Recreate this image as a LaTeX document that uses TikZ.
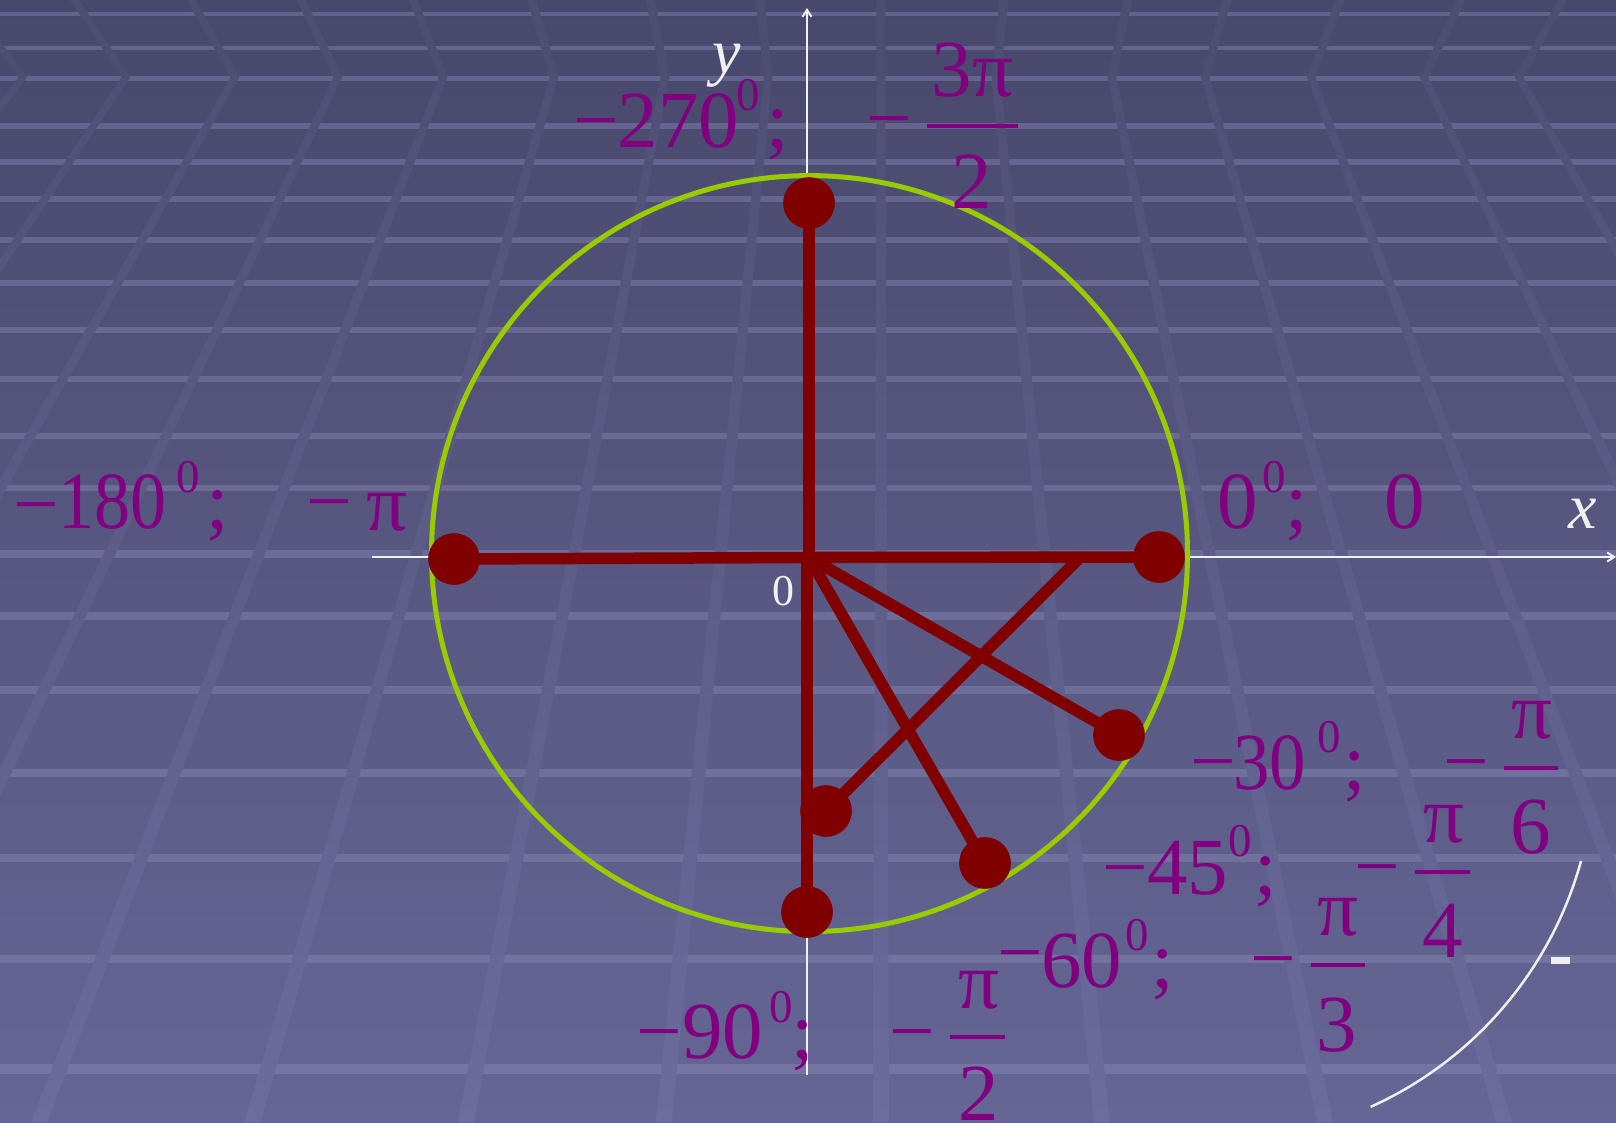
\documentclass[tikz,border=0pt]{standalone}
\usepackage{graphicx}
\usepackage{fontspec}
\setmainfont{Liberation Serif}
\usetikzlibrary{arrows.meta}
\definecolor{bgtop}{RGB}{72,72,108}
\definecolor{bgbot}{RGB}{102,102,150}
\definecolor{bandtop}{RGB}{98,98,140}
\definecolor{bandbot}{RGB}{118,118,164}
\definecolor{lntop}{RGB}{80,80,118}
\definecolor{lnbot}{RGB}{108,108,157}
\definecolor{lnup}{RGB}{78,78,115}
\definecolor{labpurple}{RGB}{128,0,128}
\definecolor{ptred}{RGB}{128,0,0}
\definecolor{circgreen}{RGB}{153,204,0}
\definecolor{axwhite}{RGB}{240,240,240}
\begin{document}
\begin{tikzpicture}[x=1pt,y=-1pt,
 lab/.style={text=labpurple,inner sep=0pt,outer sep=0pt,font=\fontsize{81}{81}\selectfont},
 suplab/.style={text=labpurple,inner sep=0pt,outer sep=0pt,font=\fontsize{47}{47}\selectfont},
 axlab/.style={text=axwhite,inner sep=0pt,outer sep=0pt,font=\fontsize{64}{64}\selectfont\itshape},
 zerolab/.style={text=axwhite,inner sep=0pt,outer sep=0pt,font=\fontsize{44}{44}\selectfont},
 fbar/.style={draw=labpurple,line width=4pt},
 axisline/.style={draw=axwhite,line width=2pt,-{Straight Barb[length=7pt,width=9pt]}},
 ray/.style={draw=ptred,line width=11.5pt,line cap=round},
 ptdot/.style={circle,fill=ptred,minimum size=51.4pt,inner sep=0pt,outer sep=0pt},
]
\useasboundingbox (0,0) rectangle (1616,1122);
% background: gradient, light bands, perspective lines (vanishing point at x=881)
\shade[top color=bgtop,bottom color=bgbot] (0,0) rectangle (1616,1122);
\foreach \yy in {14,48,78,126,162,199,240,283,330,379,436,488,554,616,690,773,858,959,1069}{
  \pgfmathtruncatemacro\pp{\yy/11.22}
  \pgfmathsetmacro\ww{5*(\yy+1056)/1133}
  \draw[line width=\ww pt,draw=bandbot!\pp!bandtop] (0,\yy) -- (1616,\yy);
}
\foreach \k in {23,126,235,338,443,554,665,768,881,996,1112,1205,1311,1424,1519}{
  \pgfmathsetmacro\xb{881+1.922*(\k-881)}
  \pgfmathsetmacro\xt{881+1.068*(\k-881)}
  \shade[top color=lntop,bottom color=lnbot] (\k-4.3,77) -- (\k+4.3,77) -- (\xb+8,1122) -- (\xb-8,1122) -- cycle;
  \fill[lnup] (\k-4.3,77.5) -- (\k+4.3,77.5) -- (\xt+4.5,0) -- (\xt-4.5,0) -- cycle;
}
% axes
\coordinate (ybot) at (807,1075);
\coordinate (ytop) at (807,8);
\coordinate (xleft) at (372,557);
\coordinate (xright) at (1616,557);
\draw[axisline] (ybot) -- (ytop);
\draw[axisline] (xleft) -- (xright);
% circle
\coordinate (C) at (809.5,553.6);
\draw[circgreen,line width=5pt] (C) circle[radius=378];
% points
\coordinate (O) at (809,557.5);
\coordinate (Od) at (807,557.5);
\coordinate (K) at (1080,557.5);
\node[ptdot] (p270) at (809,203) {};
\node[ptdot] (p180) at (454,559) {};
\node[ptdot] (p0) at (1159,557) {};
\node[ptdot] (p30) at (1119,735) {};
\node[ptdot] (p45) at (826,811) {};
\node[ptdot] (p60) at (985,863) {};
\node[ptdot] (p90) at (807,912) {};
\draw[ray] (O) -- (p270.center);
\draw[ray] (O) -- (p180.center);
\draw[ray] (O) -- (p0.center);
\draw[ray] (O) -- (p30.center);
\draw[ray] (O) -- (p60.center);
\draw[ray] (Od) -- (p90.center);
\draw[ray] (K) -- (p45.center);
\foreach \n in {p270,p180,p0,p30,p45,p60,p90}{\fill[ptred] (\n.center) circle[radius=25.7];}
% axis labels
\node[axlab,anchor=base west] (ylab) at (712,73) {y};
\node[axlab,anchor=base west] (xlab) at (1568,528) {x};
\node[zerolab,anchor=base west] (olab) at (772,605) {0};
% label -270
\node[lab,anchor=base] (m1) at (596,147) {−};
\node[lab,anchor=base west] (n1) at (617.5,147) {270};
\node[suplab,anchor=base west] (s1) at (736,110) {0};
\node[lab,anchor=base west] (c1) at (766,147) {;};
\node[lab,anchor=base] (fm1) at (889,145) {−};
\draw[fbar] (927,126) -- (1018,126);
\node[lab,anchor=base] (fn1) at (972.5,96) {3π};
\node[lab,anchor=base] (fd1) at (971.5,208) {2};
% label -180
\node[lab,anchor=base] (m2) at (36,531) {−};
\node[lab,anchor=base west] (n2) at (58,528) {\scalebox{0.89}[1]{180}};
\node[suplab,anchor=base west] (s2) at (176,492) {0};
\node[lab,anchor=base west] (c2) at (206,528) {;};
\node[lab,anchor=base] (fm2) at (329,528) {−};
\node[lab,anchor=base west] (pi2) at (366,530) {π};
% label 0
\node[lab,anchor=base west] (n3) at (1217.5,528) {0};
\node[suplab,anchor=base west] (s3) at (1262,492) {0};
\node[lab,anchor=base west] (c3) at (1285,528) {;};
\node[lab,anchor=base west] (r3) at (1384.5,528) {0};
% label -30
\node[lab,anchor=base] (m4) at (1213.5,788) {−};
\node[lab,anchor=base west] (n4) at (1233,789) {\scalebox{0.9}[1]{30}};
\node[suplab,anchor=base west] (s4) at (1317,752) {0};
\node[lab,anchor=base west] (c4) at (1343,789) {;};
\node[lab,anchor=base] (fm4) at (1466.5,788) {−};
\draw[fbar] (1504,768) -- (1558,768);
\node[lab,anchor=base] (fn4) at (1532,738) {π};
\node[lab,anchor=base] (fd4) at (1531,853) {6};
% label -45
\node[lab,anchor=base] (m5) at (1125.5,894) {−};
\node[lab,anchor=base west] (n5) at (1147,894) {45};
\node[suplab,anchor=base west] (s5) at (1228,856) {0};
\node[lab,anchor=base west] (c5) at (1254,894) {;};
\node[lab,anchor=base] (fm5) at (1377.5,893) {−};
\draw[fbar] (1415,872) -- (1470,872);
\node[lab,anchor=base] (fn5) at (1444,842) {π};
\node[lab,anchor=base] (fd5) at (1442.5,957) {4};
% label -60
\node[lab,anchor=base] (m6) at (1020.5,979) {−};
\node[lab,anchor=base west] (n6) at (1041,987) {60};
\node[suplab,anchor=base west] (s6) at (1125,950) {0};
\node[lab,anchor=base west] (c6) at (1151,987) {;};
\node[lab,anchor=base] (fm6) at (1273.5,985) {−};
\draw[fbar] (1311,965) -- (1365,965);
\node[lab,anchor=base] (fn6) at (1338,935) {π};
\node[lab,anchor=base] (fd6) at (1337,1051) {3};
% label -90
\node[lab,anchor=base] (m7) at (659.5,1058) {−};
\node[lab,anchor=base west] (n7) at (682,1058) {90};
\node[suplab,anchor=base west] (s7) at (769,1022) {0};
\node[lab,anchor=base west] (c7) at (791,1058) {;};
\node[lab,anchor=base] (fm7) at (912.5,1058) {−};
\draw[fbar] (950,1037) -- (1005,1037);
\node[lab,anchor=base] (fn7) at (979,1008) {π};
\node[lab,anchor=base] (fd7) at (978.5,1120) {2};
% white arc and mark
\draw[axwhite,line width=2.5pt] (1581,861) arc[start angle=15.4,end angle=65.7,radius=380.7];
\fill[axwhite] (1551,957) rectangle (1570,964);
\end{tikzpicture}
\end{document}
